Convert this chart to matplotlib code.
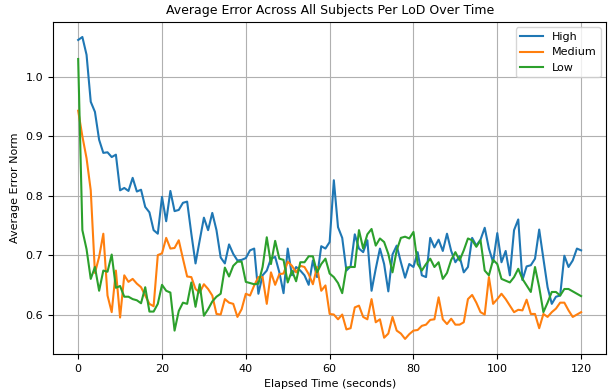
import matplotlib
matplotlib.use("Agg")
import matplotlib.pyplot as plt
import numpy as np

time_s = list(range(0, 121))

high = [1.062, 1.067, 1.037, 0.958, 0.941, 0.894, 0.872, 0.873, 0.865, 0.869,
        0.809, 0.813, 0.808, 0.830, 0.807, 0.810, 0.781, 0.772, 0.742, 0.736,
        0.798, 0.757, 0.808, 0.774, 0.776, 0.788, 0.790, 0.736, 0.686, 0.725,
        0.763, 0.742, 0.771, 0.742, 0.696, 0.686, 0.718, 0.702, 0.691, 0.692,
        0.695, 0.708, 0.711, 0.635, 0.666, 0.674, 0.694, 0.697, 0.671, 0.636,
        0.711, 0.666, 0.680, 0.674, 0.666, 0.650, 0.691, 0.663, 0.715, 0.711,
        0.722, 0.826, 0.747, 0.729, 0.674, 0.681, 0.735, 0.711, 0.705, 0.725,
        0.640, 0.677, 0.711, 0.685, 0.639, 0.701, 0.716, 0.688, 0.662, 0.685,
        0.680, 0.705, 0.666, 0.663, 0.729, 0.713, 0.726, 0.707, 0.736, 0.707,
        0.688, 0.698, 0.671, 0.680, 0.729, 0.716, 0.726, 0.746, 0.711, 0.688,
        0.737, 0.688, 0.707, 0.666, 0.742, 0.760, 0.658, 0.681, 0.683, 0.694,
        0.743, 0.694, 0.646, 0.618, 0.630, 0.632, 0.699, 0.680, 0.691, 0.711,
        0.708]

medium = [0.943, 0.900, 0.863, 0.809, 0.670, 0.697, 0.736, 0.632, 0.604, 0.674,
          0.595, 0.666, 0.655, 0.660, 0.652, 0.646, 0.632, 0.618, 0.614, 0.700,
          0.703, 0.729, 0.711, 0.712, 0.725, 0.694, 0.664, 0.663, 0.643, 0.637,
          0.651, 0.643, 0.632, 0.601, 0.600, 0.626, 0.620, 0.618, 0.596, 0.609,
          0.635, 0.632, 0.649, 0.663, 0.663, 0.618, 0.671, 0.650, 0.668, 0.669,
          0.689, 0.682, 0.671, 0.682, 0.680, 0.668, 0.651, 0.680, 0.640, 0.649,
          0.601, 0.600, 0.592, 0.600, 0.575, 0.577, 0.612, 0.615, 0.596, 0.592,
          0.626, 0.587, 0.592, 0.561, 0.568, 0.596, 0.573, 0.568, 0.559, 0.567,
          0.573, 0.574, 0.581, 0.583, 0.591, 0.592, 0.629, 0.592, 0.584, 0.593,
          0.583, 0.583, 0.587, 0.626, 0.633, 0.620, 0.604, 0.600, 0.663, 0.618,
          0.626, 0.635, 0.626, 0.615, 0.604, 0.608, 0.607, 0.625, 0.601, 0.601,
          0.577, 0.601, 0.596, 0.604, 0.610, 0.620, 0.620, 0.607, 0.596, 0.600,
          0.604]

low = [1.030, 0.742, 0.710, 0.660, 0.680, 0.640, 0.674, 0.672, 0.701, 0.645,
       0.648, 0.630, 0.630, 0.626, 0.624, 0.619, 0.646, 0.605, 0.605, 0.618,
       0.650, 0.640, 0.637, 0.573, 0.606, 0.620, 0.618, 0.654, 0.613, 0.651,
       0.598, 0.609, 0.622, 0.630, 0.635, 0.679, 0.664, 0.682, 0.689, 0.689,
       0.655, 0.653, 0.651, 0.652, 0.680, 0.730, 0.685, 0.724, 0.694, 0.692,
       0.654, 0.674, 0.656, 0.688, 0.688, 0.698, 0.698, 0.671, 0.685, 0.694,
       0.669, 0.663, 0.653, 0.636, 0.679, 0.680, 0.680, 0.742, 0.711, 0.735,
       0.744, 0.716, 0.728, 0.722, 0.702, 0.671, 0.708, 0.729, 0.731, 0.728,
       0.739, 0.685, 0.674, 0.685, 0.694, 0.680, 0.688, 0.660, 0.670, 0.692,
       0.705, 0.691, 0.708, 0.728, 0.725, 0.714, 0.725, 0.674, 0.666, 0.692,
       0.685, 0.660, 0.657, 0.654, 0.663, 0.677, 0.660, 0.649, 0.638, 0.680,
       0.646, 0.604, 0.620, 0.638, 0.638, 0.632, 0.643, 0.643, 0.639, 0.635,
       0.631]

series_names = ["High", "Medium", "Low"]

fig = plt.figure(figsize=(6.13, 3.91), dpi=100)
ax = fig.add_axes([0.0865, 0.0946, 0.9025, 0.8494])
for name, vals in zip(series_names, [high, medium, low]):
    ax.plot(time_s, vals, label=name, linewidth=1.5)

ax.set_title("Average Error Across All Subjects Per LoD Over Time", fontsize=9)
ax.set_xlabel("Elapsed Time (seconds)", fontsize=8)
ax.set_ylabel("Average Error Norm", fontsize=8)
ax.tick_params(labelsize=8)
ax.grid(True)
ax.legend(loc="upper right", fontsize=8)
fig.savefig("out.png", dpi=100)
